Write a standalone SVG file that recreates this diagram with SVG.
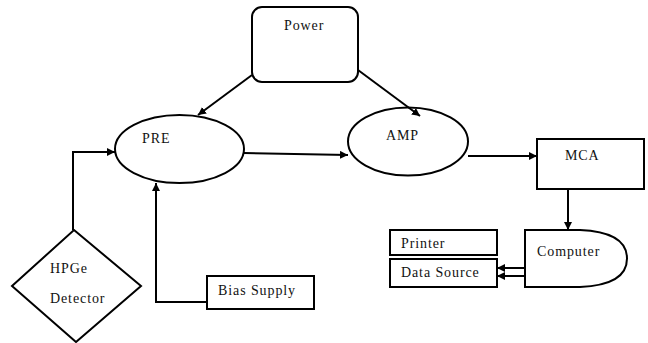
<svg xmlns="http://www.w3.org/2000/svg" width="648" height="343" viewBox="0 0 648 343">
<style>
.s{fill:#fff;stroke:#000;stroke-width:2}
.t{font-family:"Liberation Serif","DejaVu Serif","Times New Roman",serif;font-size:14px;fill:#111;letter-spacing:0.9px}
.c{fill:none;stroke:#000;stroke-width:2}
</style>
<defs>
<marker id="a" viewBox="0 0 10 10" refX="10" refY="5" markerWidth="8" markerHeight="8" markerUnits="userSpaceOnUse" orient="auto"><path d="M0,0L10,5L0,10z" fill="#000"/></marker>
</defs>
<rect width="648" height="343" fill="#fff"/>
<g id="power"><rect class="s" x="252" y="7" width="106" height="75" rx="10"/><text class="t" x="284" y="30">Power</text></g>
<g id="pre"><ellipse class="s" cx="179.5" cy="149" rx="64.5" ry="34"/><text class="t" x="142" y="143">PRE</text></g>
<g id="amp"><ellipse class="s" cx="408" cy="141.5" rx="60" ry="34"/><text class="t" x="386" y="140">AMP</text></g>
<g id="mca"><rect class="s" x="537" y="139" width="107" height="50"/><text class="t" x="565" y="160">MCA</text></g>
<g id="computer"><path class="s" d="M525,230L580,230Q627,232 627,258.5Q627,285 580,287L525,287Z"/><text class="t" x="537" y="256">Computer</text></g>
<g id="printer"><rect class="s" x="390" y="230" width="107" height="25"/><text class="t" x="401" y="248">Printer</text></g>
<g id="datasource"><rect class="s" x="390" y="259" width="107" height="28"/><text class="t" x="401" y="277">Data Source</text></g>
<g id="hpge"><path class="s" d="M74,230L141,286L76,342L12,286Z"/><text class="t" x="50" y="273">HPGe</text><text class="t" x="50" y="303">Detector</text></g>
<g id="bias"><rect class="s" x="207" y="276" width="107" height="33"/><text class="t" x="218" y="295">Bias Supply</text></g>
<g id="connectors">
<path class="c" d="M252,75L198,115" marker-end="url(#a)"/>
<path class="c" d="M358,70L420,116" marker-end="url(#a)"/>
<path class="c" d="M244,153L348,155" marker-end="url(#a)"/>
<path class="c" d="M468,156L537,156" marker-end="url(#a)"/>
<path class="c" d="M568,189L568,230" marker-end="url(#a)"/>
<path class="c" d="M525,268L497,268" marker-end="url(#a)"/>
<path class="c" d="M525,276L497,276" marker-end="url(#a)"/>
<path class="c" d="M73,230L73,152L115,152" marker-end="url(#a)"/>
<path class="c" d="M207,302L156,302L156,183" marker-end="url(#a)"/>
</g>
</svg>
